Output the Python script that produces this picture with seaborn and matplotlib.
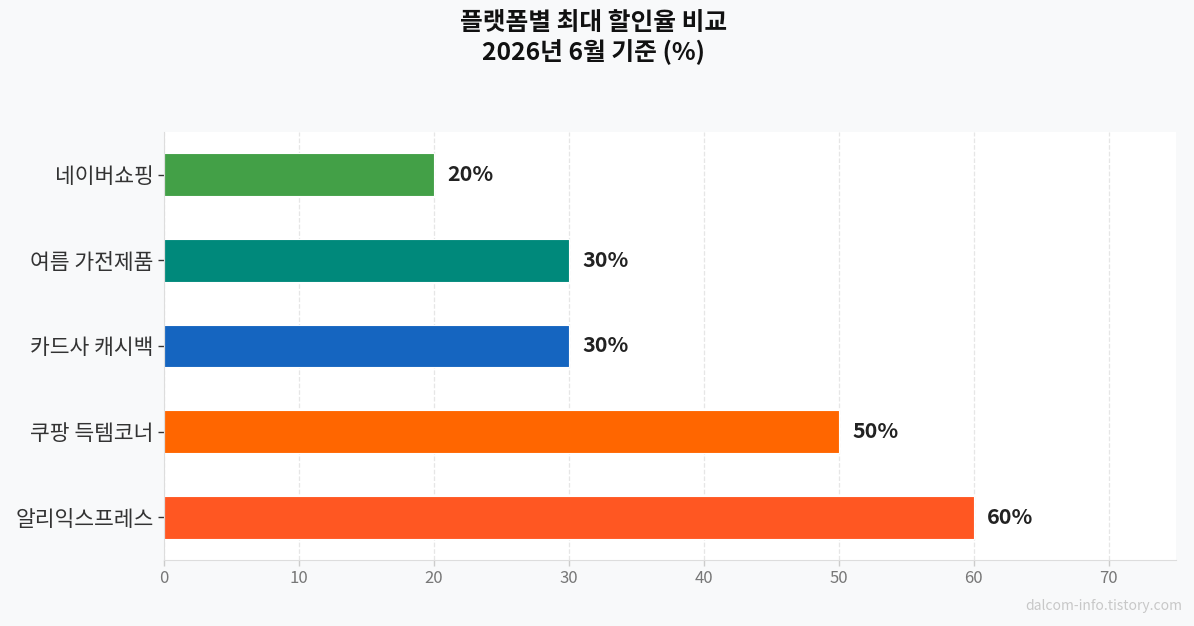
import matplotlib
matplotlib.use("Agg")
import matplotlib.pyplot as plt
import seaborn as sns
import pandas as pd

# Data
platforms = ["네이버쇼핑", "여름 가전제품", "카드사 캐시백", "쿠팡 득템코너", "알리익스프레스"]
discounts = [20, 30, 30, 50, 60]
colors = ["#43a047", "#00897b", "#1565c0", "#ff6600", "#ff5722"]

df = pd.DataFrame({"platform": platforms, "discount": discounts})

sns.set_style("white")
plt.rcParams["font.family"] = ["Noto Sans CJK KR", "DejaVu Sans"]

fig = plt.figure(figsize=(11.94, 6.26), dpi=100, facecolor="#f8f9fa")
ax = fig.add_axes([164 / 1194, 1 - 560 / 626, 1012 / 1194, 428 / 626])
ax.set_facecolor("white")

sns.barplot(
    data=df,
    x="discount",
    y="platform",
    hue="platform",
    palette=colors,
    saturation=1,
    width=0.5,
    edgecolor="white",
    linewidth=0.8,
    legend=False,
    ax=ax,
)

for i, v in enumerate(discounts):
    ax.text(v + 1, i, f"{v}%", va="center", ha="left",
            fontsize=15.5, fontweight="bold", color="#222222")

ax.set_xlim(0, 75)
ax.set_xticks(range(0, 71, 10))
ax.set_xlabel("")
ax.set_ylabel("")
ax.xaxis.grid(True, linestyle="--", color="#e6e6e6", linewidth=0.9)
ax.set_axisbelow(True)

for s in ["top", "right"]:
    ax.spines[s].set_visible(False)
for s in ["left", "bottom"]:
    ax.spines[s].set_color("#dddddd")

ax.tick_params(axis="y", labelsize=15.5, colors="#333333", length=4, width=1, left=True)
ax.tick_params(axis="x", labelsize=12, colors="#777777", length=4, width=1, bottom=True)
ax.tick_params(axis="x", color="#cccccc")

fig.suptitle("플랫폼별 최대 할인율 비교\n2026년 6월 기준 (%)",
             fontsize=17.8, fontweight="bold", color="#111111", x=0.497, y=0.982)

fig.text(0.99, 0.02, "dalcom-info.tistory.com", ha="right", va="bottom",
         fontsize=10, color="#c8c8c8")

plt.savefig("out.png", dpi=100, facecolor=fig.get_facecolor())
